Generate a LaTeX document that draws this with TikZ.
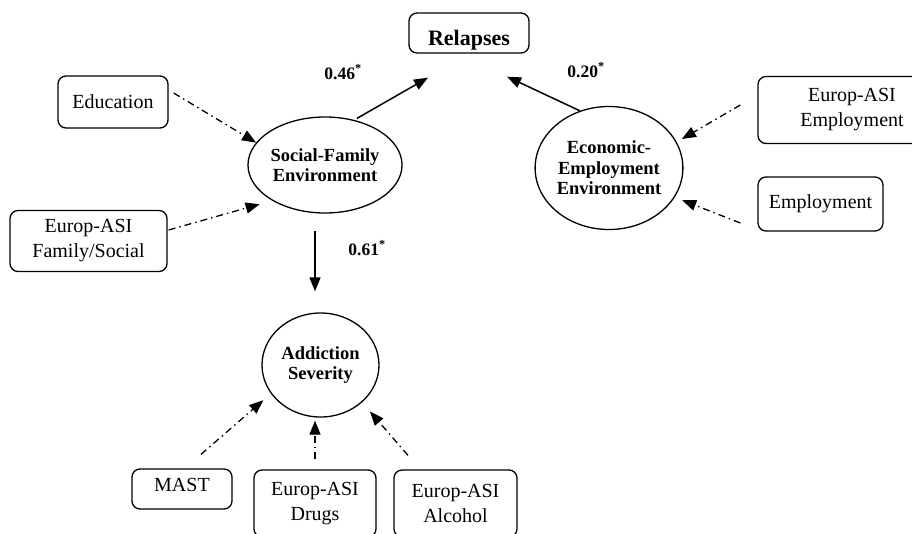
\documentclass[tikz,border=0pt]{standalone}
\usepackage{fontspec}
\setmainfont{Liberation Serif}
\usetikzlibrary{arrows.meta,shapes.geometric}
\tikzset{
  obs/.style={draw, rounded corners=8pt, line width=1.3pt, inner sep=0pt, align=center, font=\fontsize{20}{25}\selectfont},
  lat/.style={draw, ellipse, line width=1.3pt, inner sep=0pt, align=center, font=\bfseries\fontsize{18.5}{20.5}\selectfont},
  coef/.style={-{Triangle[length=14pt,width=11pt]}, line width=1.5pt},
  load/.style={-{Triangle[length=14pt,width=11pt]}, line width=1.3pt, dash pattern=on 7pt off 4pt on 1.5pt off 4pt},
}
\begin{document}
\begin{tikzpicture}[x=1pt, y=-1pt]
\useasboundingbox (0,0) rectangle (912,533);
\clip (0,0) rectangle (912,533);
\node[obs, minimum width=120pt, minimum height=40pt, text height=32pt, text depth=8pt, font=\bfseries\fontsize{22}{25}\selectfont] (rel) at (469,33) {Relapses};
\node[obs, minimum width=110pt, minimum height=52pt] (edu) at (113,102) {Education};
\node[obs, minimum width=157pt, minimum height=61pt] (fam) at (88.5,241) {Europ-ASI\\Family/Social};
\node[obs, minimum width=188pt, minimum height=67pt] (aemp) at (852,110) {Europ-ASI\\Employment};
\node[obs, minimum width=125pt, minimum height=54pt] (emp) at (820.5,204) {Employment};
\node[obs, minimum width=100pt, minimum height=40pt, text height=18pt, text depth=13pt] (mast) at (182,489) {MAST};
\node[obs, minimum width=122pt, minimum height=67pt] (drugs) at (315,503.5) {Europ-ASI\\Drugs};
\node[obs, minimum width=123pt, minimum height=67pt] (alc) at (455.5,503.5) {Europ-ASI\\Alcohol};
\node[lat, minimum width=142pt, minimum height=96pt] (soc) at (325,165) {Social-Family\\Environment};
\node[lat, minimum width=142pt, minimum height=123pt] (eco) at (609,168) {Economic-\\Employment\\Environment};
\node[lat, minimum width=117pt, minimum height=104pt] (add) at (320.5,365) {Addiction\\Severity};

\draw[coef, shorten <=3pt] (soc.57) -- ([xshift=-41pt,yshift=-24pt]rel.south);
\draw[coef] (eco.117) -- ([xshift=38pt,yshift=-23pt]rel.south);
\draw[coef] ([xshift=-10pt,yshift=-17pt]soc.south) -- ([xshift=-5.5pt,yshift=21pt]add.north);

\draw[load] ([xshift=5pt,yshift=9pt]edu.east) -- (soc.162);
\draw[load, shorten >=13pt] ([xshift=1pt,yshift=11pt]fam.east) -- (soc.214);
\draw[load, shorten >=6pt] ([xshift=-17pt,yshift=5pt]aemp.west) -- (eco.21);
\draw[load, shorten >=8pt] ([xshift=-17pt,yshift=-19pt]emp.west) -- (eco.-24);
\draw[load, shorten >=10pt] ([xshift=19pt,yshift=14pt]mast.north) -- (add.210);
\draw[load] ([yshift=10pt]drugs.north) -- ([xshift=-5.5pt,yshift=-3pt]add.south);
\draw[load, shorten >=12pt] ([xshift=-47.5pt,yshift=14pt]alc.north) -- (add.-42);

\foreach \v/\x/\y in {0.46/343/72, 0.20/586/70, 0.61/367/248}
{
    \node[font=\bfseries\fontsize{17.5}{20}\selectfont] (c\x) at (\x,\y) {\v\textsuperscript{*}};
}
\end{tikzpicture}
\end{document}
